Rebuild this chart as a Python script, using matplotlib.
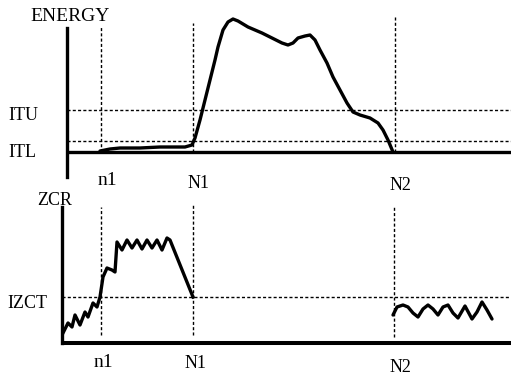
import matplotlib
matplotlib.use("Agg")
import matplotlib.pyplot as plt

# frame positions (shared by both panels)
n1, N1, N2 = 101, 193, 395

# short-time energy contour
energy_t = [100, 110, 120, 140, 160, 180, 185, 192, 195, 200, 205, 210, 215, 218, 223,
            228, 233, 238, 248, 262, 272, 282, 288, 293, 298, 305, 310, 315, 320,
            327, 333, 340, 347, 353, 360, 370, 378, 383, 388, 393]
energy = [1, 3, 4, 4, 5, 5, 5, 7, 14, 32, 52, 72, 92, 105, 122,
          130, 133, 131, 125, 119, 114, 109, 107, 109, 114, 116, 117, 112, 102,
          89, 75, 62, 49, 40, 37, 34, 29, 22, 12, 0]
ITU, ITL = 42, 11

# zero crossing rate, start of the word and after N2
zcr_t1 = [63, 68, 72, 75, 80, 85, 88, 93, 97, 100, 103, 107, 112, 115, 117, 122, 127,
          132, 137, 142, 147, 152, 157, 162, 167, 170, 193]
zcr1 = [10, 20, 16, 28, 18, 31, 26, 40, 36, 46, 66, 75, 73, 71, 101, 93, 103,
        95, 103, 94, 103, 95, 103, 93, 105, 103, 46]
zcr_t2 = [393, 397, 403, 408, 413, 418, 423, 428, 433, 438, 443, 448, 453, 458,
          465, 472, 477, 482, 487, 492]
zcr2 = [28, 36, 38, 36, 30, 26, 34, 38, 34, 28, 36, 38, 30, 25,
        37, 24, 31, 41, 33, 24]
IZCT = 46

W, H = 511, 378
plt.rcParams['font.family'] = ['Liberation Serif', 'DejaVu Serif']
fig = plt.figure(figsize=(W / 100, H / 100), dpi=100)

def fx(x):
    return x / W

def fy(y):
    return 1 - y / H

dash = (0, (2.2, 1.6))
lw = 2.4

# ---- energy panel
ax1 = fig.add_axes([fx(67), fy(177), fx(511 - 67), (177 - 17) / H])
ax1.set_xlim(67, 511)
ax1.set_ylim(-25, 135)
for s in ['top', 'right', 'bottom']:
    ax1.spines[s].set_visible(False)
ax1.spines['left'].set_linewidth(lw)
ax1.spines['left'].set_bounds(-25, 124)
ax1.set_xticks([])
ax1.set_yticks([])
ax1.patch.set_alpha(0)
ax1.axhline(0, color='black', lw=lw)
for lev in (ITU, ITL):
    ax1.axhline(lev, color='black', lw=1, ls=dash)
ax1.vlines([n1, N1, N2], 0, [125, 129, 135], color='black', lw=1, ls=dash)
ax1.plot(energy_t, energy, color='black', lw=lw, solid_joinstyle='round',
         solid_capstyle='round')

# ---- zcr panel
ax2 = fig.add_axes([fx(62), fy(346), fx(511 - 62), (346 - 204) / H])
ax2.set_xlim(62, 511)
ax2.set_ylim(-3, 139)
for s in ['top', 'right', 'bottom']:
    ax2.spines[s].set_visible(False)
ax2.spines['left'].set_linewidth(lw)
ax2.spines['left'].set_bounds(0, 136)
ax2.set_xticks([])
ax2.set_yticks([])
ax2.patch.set_alpha(0)
ax2.axhline(0, color='black', lw=lw + 0.5)
ax2.axhline(IZCT, color='black', lw=1, ls=dash)
ax2.vlines([n1, N1, N2 - 1], [8, 8, 6], [136, 139, 136], color='black', lw=1, ls=dash)
ax2.plot(zcr_t1, zcr1, color='black', lw=lw, solid_joinstyle='round')
ax2.plot(zcr_t2, zcr2, color='black', lw=lw, solid_joinstyle='round',
         solid_capstyle='round')

# ---- labels
fs = 14
fig.text(fx(30), fy(21), 'ENERGY', fontsize=fs, va='baseline', ha='left')
fig.text(fx(8), fy(120), 'ITU', fontsize=fs - 1, va='baseline', ha='left')
fig.text(fx(8), fy(157), 'ITL', fontsize=fs - 1, va='baseline', ha='left')
fig.text(fx(107), fy(185), 'n1', fontsize=fs, va='baseline', ha='center')
fig.text(fx(199), fy(188), 'N1', fontsize=fs - 1, va='baseline', ha='center')
fig.text(fx(400), fy(190), 'N2', fontsize=fs - 1, va='baseline', ha='center')
fig.text(fx(37), fy(205), 'ZCR', fontsize=fs - 1, va='baseline', ha='left')
fig.text(fx(7), fy(308), 'IZCT', fontsize=fs - 1, va='baseline', ha='left')
fig.text(fx(103), fy(367), 'n1', fontsize=fs, va='baseline', ha='center')
fig.text(fx(196), fy(368), 'N1', fontsize=fs - 1, va='baseline', ha='center')
fig.text(fx(400), fy(372), 'N2', fontsize=fs - 1, va='baseline', ha='center')

fig.savefig('out.png', dpi=100)
